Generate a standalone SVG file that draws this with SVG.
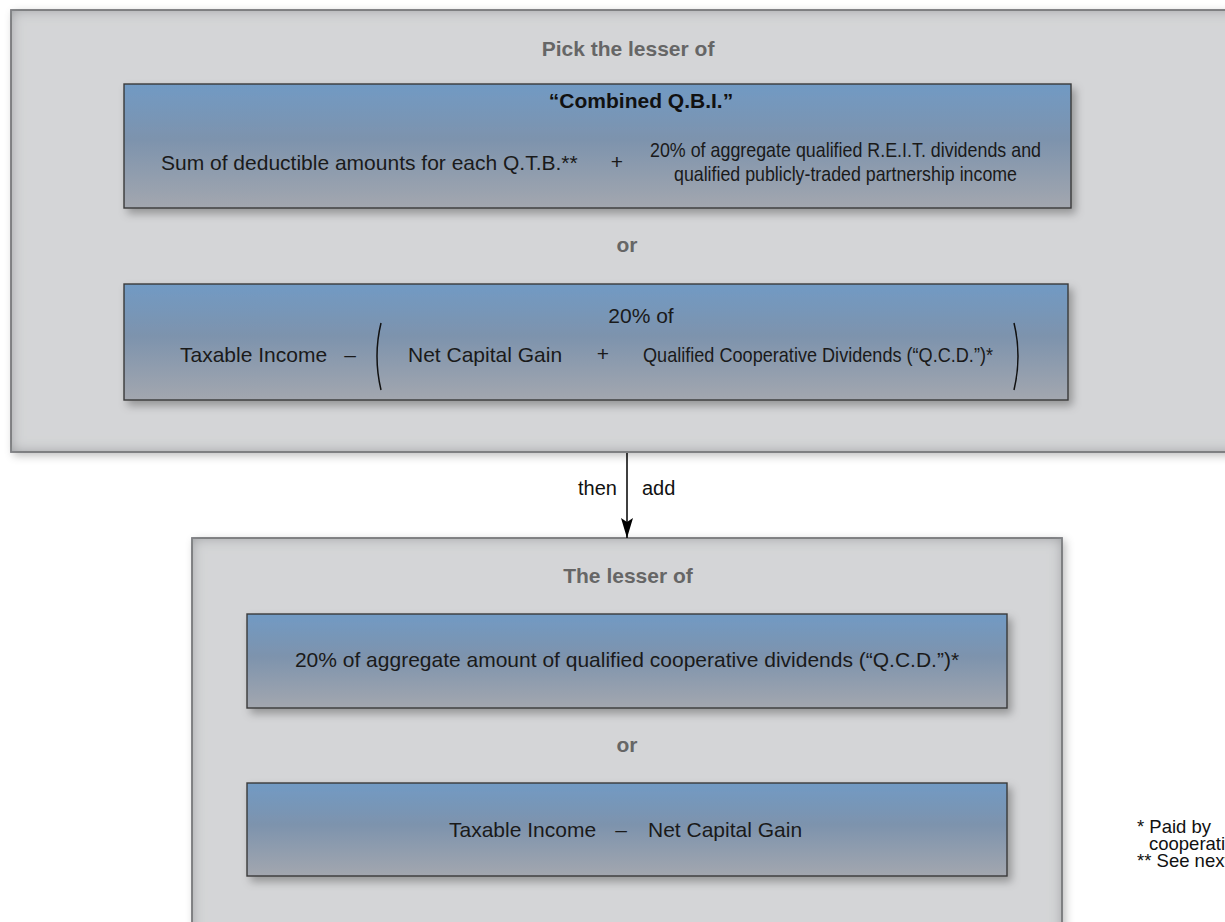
<svg xmlns="http://www.w3.org/2000/svg" width="1225" height="922" viewBox="0 0 1225 922">
  <defs>
    <linearGradient id="blueFill" x1="0" y1="0" x2="0" y2="1">
      <stop offset="0" stop-color="#719ac4"/>
      <stop offset="0.45" stop-color="#7d93ad"/>
      <stop offset="1" stop-color="#a3a7af"/>
    </linearGradient>
    <!-- soft inner edge shading plus drop shadow for the grey panels -->
    <filter id="panelFx" x="-5%" y="-5%" width="110%" height="110%">
      <feFlood flood-color="#8d8f93" result="ink"/>
      <feComposite in="ink" in2="SourceAlpha" operator="out" result="outside"/>
      <feGaussianBlur in="outside" stdDeviation="7" result="blurOut"/>
      <feComposite in="blurOut" in2="SourceAlpha" operator="in" result="inner"/>
      <feGaussianBlur in="SourceAlpha" stdDeviation="4" result="sh"/>
      <feOffset in="sh" dx="3" dy="3" result="shOff"/>
      <feFlood flood-color="#000" flood-opacity="0.25"/>
      <feComposite in2="shOff" operator="in" result="drop"/>
      <feMerge>
        <feMergeNode in="drop"/>
        <feMergeNode in="SourceGraphic"/>
        <feMergeNode in="inner"/>
      </feMerge>
    </filter>
    <filter id="boxShadow" x="-5%" y="-10%" width="110%" height="130%">
      <feGaussianBlur in="SourceAlpha" stdDeviation="4"/>
      <feOffset dx="4" dy="5" result="o"/>
      <feFlood flood-color="#000" flood-opacity="0.3"/>
      <feComposite in2="o" operator="in"/>
      <feMerge><feMergeNode/><feMergeNode in="SourceGraphic"/></feMerge>
    </filter>
    <marker id="arrowHead" viewBox="0 0 20 12" refX="20" refY="6" markerWidth="20" markerHeight="12" markerUnits="userSpaceOnUse" orient="auto">
      <path d="M0,0 L20,6 L0,12 L4,6 Z" fill="#000"/>
    </marker>
  </defs>
  <style>
    text { font-family: "Liberation Sans", Arial, sans-serif; font-size: 21px; fill: #1a1a1a; }
    .head { font-weight: bold; fill: #666; }
    .title { font-weight: bold; fill: #111; }
    .mid { text-anchor: middle; }
    .end { text-anchor: end; }
    .panel { fill: #d4d5d7; stroke: #58595b; stroke-width: 1.6; }
    .blue { fill: url(#blueFill); stroke: #3a3a3a; stroke-width: 1.4; }
    .paren { fill: none; stroke: #111; stroke-width: 1.5; }
    .note { font-size: 18.5px; fill: #111; }
    .lbl { font-size: 20px; fill: #111; }
  </style>

  <rect width="1225" height="922" fill="#fff"/>

  <!-- upper panel: pick the lesser of two amounts -->
  <g id="panel-upper">
    <rect class="panel" x="11" y="10" width="1240" height="442" filter="url(#panelFx)"/>
    <text class="head mid" x="628" y="56">Pick the lesser of</text>
    <text class="head mid" x="627" y="252">or</text>
  </g>

  <g id="combined-qbi">
    <rect class="blue" x="124" y="84" width="947" height="124" filter="url(#boxShadow)"/>
    <text class="title mid" x="641" y="108">“Combined Q.B.I.”</text>
    <text x="161" y="170">Sum of deductible amounts for each Q.T.B.**</text>
    <text class="mid" x="617" y="169">+</text>
    <text x="650" y="157" textLength="391" lengthAdjust="spacingAndGlyphs">20% of aggregate qualified R.E.I.T. dividends and</text>
    <text x="674" y="181" textLength="343" lengthAdjust="spacingAndGlyphs">qualified publicly-traded partnership income</text>
  </g>

  <g id="taxable-limit">
    <rect class="blue" x="124" y="284" width="944" height="116" filter="url(#boxShadow)"/>
    <text class="mid" x="641" y="323">20% of</text>
    <text x="180" y="362">Taxable Income</text>
    <text class="mid" x="350" y="362">–</text>
    <path class="paren" d="M381,323 Q373,356 381,390"/>
    <text x="408" y="362">Net Capital Gain</text>
    <text class="mid" x="603" y="361">+</text>
    <text x="643" y="362" textLength="350" lengthAdjust="spacingAndGlyphs">Qualified Cooperative Dividends (“Q.C.D.”)*</text>
    <path class="paren" d="M1014,323 Q1022,356 1014,390"/>
  </g>

  <!-- lower panel: lesser of the cooperative amounts -->
  <g id="panel-lower">
    <rect class="panel" x="192" y="538" width="870" height="420" filter="url(#panelFx)"/>
    <text class="head mid" x="628" y="583">The lesser of</text>
    <text class="head mid" x="627" y="752">or</text>
  </g>

  <g id="qcd-share">
    <rect class="blue" x="247" y="614" width="760" height="94" filter="url(#boxShadow)"/>
    <text class="mid" x="627" y="667">20% of aggregate amount of qualified cooperative dividends (“Q.C.D.”)*</text>
  </g>

  <g id="income-less-gain">
    <rect class="blue" x="247" y="783" width="760" height="93" filter="url(#boxShadow)"/>
    <text x="449" y="837">Taxable Income</text>
    <text class="mid" x="621" y="837">–</text>
    <text x="648" y="837">Net Capital Gain</text>
  </g>

  <g id="connectors">
    <line x1="627" y1="453" x2="627" y2="538" stroke="#000" stroke-width="1.5" marker-end="url(#arrowHead)"/>
    <text class="lbl end" x="617" y="495">then</text>
    <text class="lbl" x="642" y="495">add</text>
  </g>

  <g id="footnotes">
    <text class="note" x="1137" y="833">* Paid by</text>
    <text class="note" x="1149" y="850">cooperatives</text>
    <text class="note" x="1137" y="867">** See next page</text>
  </g>
</svg>
